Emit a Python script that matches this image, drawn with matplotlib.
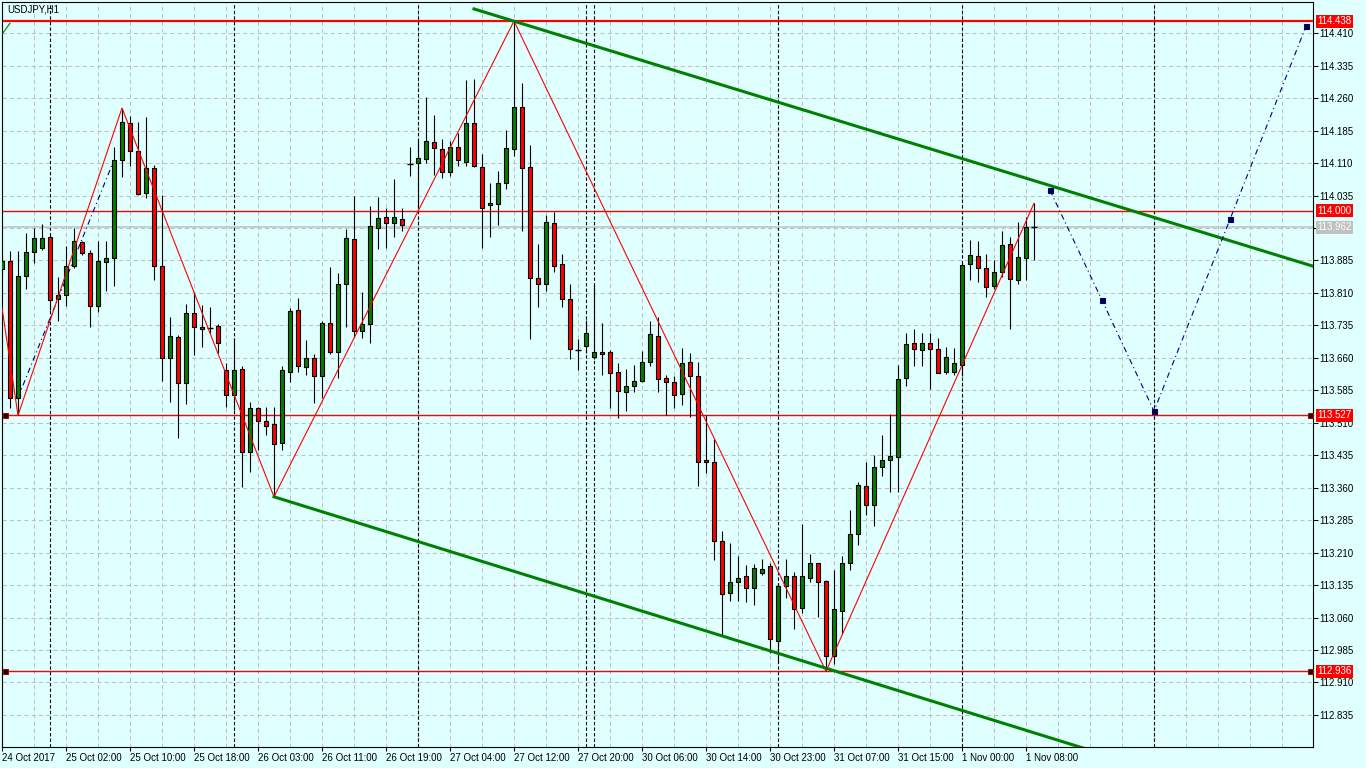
import matplotlib
matplotlib.use("Agg")
import matplotlib.pyplot as plt
import matplotlib.transforms as mtransforms
from matplotlib.patches import Rectangle
import numpy as np

# USDJPY H1, 24 Oct 18:00 .. 1 Nov 09:00 (one bar per hour)
symbol = "USDJPY,H1"

opens = [113.865, 113.884, 113.568, 113.850, 113.904, 113.913, 113.939, 113.796, 113.804, 113.871,
         113.927, 113.902, 113.779, 113.881, 113.890, 114.116, 114.202, 114.138, 114.040, 114.098,
         113.872, 113.659, 113.709, 113.601, 113.763, 113.732, 113.730, 113.734, 113.632, 113.574,
         113.634, 113.443, 113.544, 113.514, 113.507, 113.463, 113.628, 113.771, 113.638, 113.659,
         113.619, 113.740, 113.673, 113.830, 113.934, 113.721, 113.738, 113.961, 113.985, 113.971,
         113.980, 114.108, 114.111, 114.119, 114.158, 114.142, 114.090, 114.147, 114.113, 114.202,
         114.100, 114.012, 114.016, 114.063, 114.142, 114.239, 114.100, 113.844, 113.830, 113.971,
         113.876, 113.796, 113.678, 113.688, 113.661, 113.673, 113.673, 113.628, 113.582, 113.596,
         113.607, 113.651, 113.710, 113.613, 113.604, 113.576, 113.650, 113.618, 113.424, 113.419,
         113.238, 113.116, 113.143, 113.156, 113.129, 113.164, 113.179, 113.007, 113.132, 113.156,
         113.082, 113.151, 113.186, 113.145, 112.972, 113.076, 113.186, 113.253, 113.364, 113.319,
         113.407, 113.423, 113.432, 113.613, 113.694, 113.677, 113.694, 113.680, 113.628, 113.628,
         113.644, 113.876, 113.896, 113.867, 113.825, 113.859, 113.923, 113.840, 113.890, 113.962]
highs = [113.895, 113.906, 113.906, 113.948, 113.960, 113.970, 113.944, 113.846, 113.919, 113.960,
         113.931, 113.909, 113.931, 113.929, 114.148, 114.237, 114.219, 114.204, 114.216, 114.106,
         114.036, 113.755, 113.713, 113.785, 113.813, 113.782, 113.778, 113.739, 113.649, 113.705,
         113.640, 113.559, 113.547, 113.547, 113.547, 113.640, 113.775, 113.798, 113.702, 113.669,
         113.745, 113.869, 113.856, 113.957, 114.033, 113.812, 114.011, 114.031, 114.006, 114.073,
         114.006, 114.147, 114.164, 114.262, 114.221, 114.165, 114.162, 114.180, 114.302, 114.304,
         114.131, 114.063, 114.092, 114.187, 114.438, 114.296, 114.152, 113.923, 113.990, 113.997,
         113.900, 113.831, 113.704, 113.748, 113.830, 113.740, 113.678, 113.648, 113.634, 113.644,
         113.676, 113.744, 113.755, 113.621, 113.619, 113.682, 113.671, 113.651, 113.528, 113.473,
         113.260, 113.232, 113.203, 113.182, 113.184, 113.195, 113.186, 113.139, 113.195, 113.166,
         113.276, 113.207, 113.186, 113.147, 113.169, 113.203, 113.309, 113.373, 113.420, 113.436,
         113.482, 113.531, 113.644, 113.718, 113.727, 113.717, 113.717, 113.705, 113.684, 113.682,
         113.879, 113.932, 113.929, 113.900, 113.885, 113.954, 113.939, 113.973, 113.985, 114.017]
lows = [113.850, 113.544, 113.527, 113.819, 113.880, 113.908, 113.771, 113.744, 113.780, 113.867,
        113.898, 113.732, 113.767, 113.815, 113.825, 114.077, 114.104, 114.036, 114.030, 113.839,
        113.607, 113.557, 113.474, 113.553, 113.667, 113.686, 113.717, 113.671, 113.546, 113.540,
        113.361, 113.397, 113.447, 113.482, 113.339, 113.446, 113.605, 113.628, 113.621, 113.555,
        113.567, 113.670, 113.614, 113.732, 113.708, 113.705, 113.694, 113.912, 113.913, 113.940,
        113.952, 114.081, 114.005, 114.110, 114.083, 114.076, 114.079, 114.102, 114.103, 114.100,
        113.913, 113.938, 113.966, 114.050, 114.127, 113.952, 113.704, 113.778, 113.815, 113.859,
        113.778, 113.658, 113.632, 113.672, 113.657, 113.621, 113.545, 113.521, 113.537, 113.580,
        113.605, 113.640, 113.582, 113.528, 113.545, 113.550, 113.524, 113.365, 113.395, 113.192,
        113.018, 113.099, 113.099, 113.097, 113.088, 113.159, 112.978, 112.958, 113.106, 113.034,
        113.071, 113.143, 113.062, 112.936, 112.952, 113.022, 113.170, 113.228, 113.297, 113.272,
        113.388, 113.350, 113.350, 113.594, 113.642, 113.642, 113.588, 113.625, 113.623, 113.621,
        113.617, 113.839, 113.836, 113.800, 113.819, 113.846, 113.726, 113.830, 113.839, 113.885]
closes = [113.883, 113.568, 113.849, 113.904, 113.937, 113.937, 113.794, 113.806, 113.872, 113.929,
          113.902, 113.779, 113.884, 113.890, 114.117, 114.204, 114.137, 114.038, 114.098, 113.871,
          113.659, 113.711, 113.603, 113.763, 113.731, 113.726, 113.730, 113.694, 113.574, 113.632,
          113.442, 113.544, 113.513, 113.503, 113.461, 113.632, 113.768, 113.640, 113.659, 113.617,
          113.740, 113.673, 113.830, 113.937, 113.721, 113.738, 113.965, 113.983, 113.971, 113.985,
          113.966, 114.108, 114.121, 114.161, 114.144, 114.090, 114.147, 114.116, 114.202, 114.103,
          114.007, 114.017, 114.063, 114.144, 114.239, 114.098, 113.844, 113.830, 113.973, 113.873,
          113.796, 113.680, 113.678, 113.717, 113.673, 113.669, 113.626, 113.584, 113.595, 113.607,
          113.650, 113.715, 113.611, 113.605, 113.573, 113.648, 113.619, 113.420, 113.419, 113.238,
          113.114, 113.142, 113.152, 113.129, 113.174, 113.172, 113.010, 113.133, 113.156, 113.079,
          113.155, 113.186, 113.142, 112.972, 113.079, 113.186, 113.253, 113.366, 113.319, 113.407,
          113.424, 113.433, 113.611, 113.692, 113.680, 113.694, 113.680, 113.626, 113.663, 113.648,
          113.875, 113.898, 113.867, 113.823, 113.858, 113.921, 113.842, 113.893, 113.963, 113.962]

time_labels = ["24 Oct 2017", "25 Oct 02:00", "25 Oct 10:00", "25 Oct 18:00", "26 Oct 03:00",
               "26 Oct 11:00", "26 Oct 19:00", "27 Oct 04:00", "27 Oct 12:00", "27 Oct 20:00",
               "30 Oct 06:00", "30 Oct 14:00", "30 Oct 23:00", "31 Oct 07:00", "31 Oct 15:00",
               "1 Nov 00:00", "1 Nov 08:00"]
time_label_bars = [0, 8, 16, 24, 32, 40, 48, 56, 64, 72, 80, 88, 96, 104, 112, 120, 128]
day_separators = [6, 29, 52, 73, 74, 97, 120, 144]

price_ticks = [112.835, 112.910, 112.985, 113.060, 113.135, 113.210, 113.285, 113.360, 113.435,
               113.510, 113.585, 113.660, 113.735, 113.810, 113.885, 113.960, 114.035, 114.110,
               114.185, 114.260, 114.335, 114.410]

levels = [114.438, 114.000, 113.527, 112.936]
level_widths = [1.6, 1.0, 1.0, 1.0]
bid = 113.962

# zigzag through swing highs / lows
zigzag_bars = [-1, 2, 15, 34, 64, 103, 129]
zigzag_prices = [113.900, 113.527, 114.237, 113.339, 114.438, 112.936, 114.017]

# descending channel
channel_top_bars = [59, 164]
channel_top_prices = [114.466, 113.871]
channel_bot_bars = [34, 164]
channel_bot_prices = [113.339, 112.593]
stub_bars = [0.1, 1.0]
stub_prices = [114.410, 114.433]

# dash-dot projections
ab_bars = [2, 14]
ab_prices = [113.568, 114.117]
proj_bars = [131, 137.5, 144, 153.5, 163]
proj_prices = [114.047, 113.793, 113.537, 113.980, 114.426]

BG = "#e0ffff"
GRID = "#c0c0c0"
BULL = "#008000"
BEAR = "#ff0000"

plt.rcParams['font.family'] = ['Liberation Sans', 'DejaVu Sans']

fig = plt.figure(figsize=(13.66, 7.68), dpi=100, facecolor=BG)
ax = fig.add_axes([2 / 1366, 21 / 768, 1311 / 1366, 745 / 768])
ax.set_facecolor(BG)
ax.set_xlim(0, 163.875)
ax.set_ylim(112.761, 114.482)

# grid
for b in range(0, 164, 4):
    ax.axvline(b, color=GRID, lw=0.75, ls=(0, (4, 3)), zorder=0.5)
for p in price_ticks:
    ax.axhline(p, color=GRID, lw=0.75, ls=(0, (4, 3)), zorder=0.5)
for b in day_separators:
    ax.axvline(b, color="black", lw=0.8, ls=(0, (3, 2)), zorder=0.6)

# candles
for i, (o, h, l, c) in enumerate(zip(opens, highs, lows, closes)):
    ax.vlines(i, l, h, color="black", lw=0.8, zorder=3)
    if c == o:
        ax.hlines(o, i - 0.32, i + 0.32, color="black", lw=1.0, zorder=4)
    else:
        col = BULL if c > o else BEAR
        ax.add_patch(Rectangle((i - 0.3, min(o, c)), 0.6, abs(c - o), facecolor=col,
                               edgecolor="black", lw=0.8, zorder=4))

# horizontal levels
ax.axhline(bid, color="#c0c0c0", lw=1.1, zorder=2)
for lv, w in zip(levels, level_widths):
    ax.axhline(lv, color="red", lw=w, zorder=2)
for lv in levels[2:]:
    ax.plot([0.4, 163.5], [lv, lv], ls="none", marker="s", ms=3.6, mfc="black", mec="#c00000",
            mew=0.8, zorder=6, clip_on=False)

# zigzag
ax.plot(zigzag_bars, zigzag_prices, color="red", lw=0.8, zorder=5)

# channel
ax.plot(channel_top_bars, channel_top_prices, color="#008000", lw=2.2, zorder=5)
ax.plot(channel_bot_bars, channel_bot_prices, color="#008000", lw=2.2, zorder=5)
ax.plot(stub_bars, stub_prices, color="#008000", lw=0.8, zorder=5)

# projections
ax.plot(ab_bars, ab_prices, color="#000080", lw=0.8, ls=(0, (5, 3, 1, 3)), zorder=3.5)
ax.plot(proj_bars, proj_prices, color="#000080", lw=0.8, ls=(0, (5, 3, 1, 3)), zorder=5)
ax.plot(proj_bars, proj_prices, ls="none", marker="s", ms=3.6, mfc="#000030", mec="#000080",
        mew=0.8, zorder=6)

# axes / ticks
for s in ax.spines.values():
    s.set_color("black")
    s.set_linewidth(0.8)
ax.yaxis.tick_right()
ax.set_yticks(price_ticks)
ax.set_yticklabels(["" if abs(p - bid) < 0.01 else f"{p:.3f}" for p in price_ticks])
ax.set_xticks(time_label_bars)
ax.set_xticklabels(time_labels, ha="left")
ax.tick_params(axis="y", length=3.6, width=0.75, pad=1, labelsize=7, colors="black")
ax.tick_params(axis="x", length=2.9, width=0.75, pad=1.5, labelsize=7, colors="black")

# price boxes on the right scale
trans = mtransforms.blended_transform_factory(ax.transAxes, ax.transData)
for lv in levels:
    ax.text(1 + 4.5 / 1311, lv, f"{lv:.3f}", transform=trans, ha="left", va="center",
            fontsize=7, color="white", clip_on=False, zorder=10,
            bbox=dict(boxstyle="square,pad=0.15", facecolor="red", edgecolor="none"))
ax.text(1 + 4.5 / 1311, bid, f"{bid:.3f}", transform=trans, ha="left", va="center",
        fontsize=7, color="white", clip_on=False, zorder=10,
        bbox=dict(boxstyle="square,pad=0.15", facecolor="#c0c0c0", edgecolor="none"))

fig.text(7 / 1366, 1 - 9 / 768, symbol, fontsize=7, ha="left", va="center", color="black")

fig.savefig("out.png", dpi=100, facecolor=BG)
